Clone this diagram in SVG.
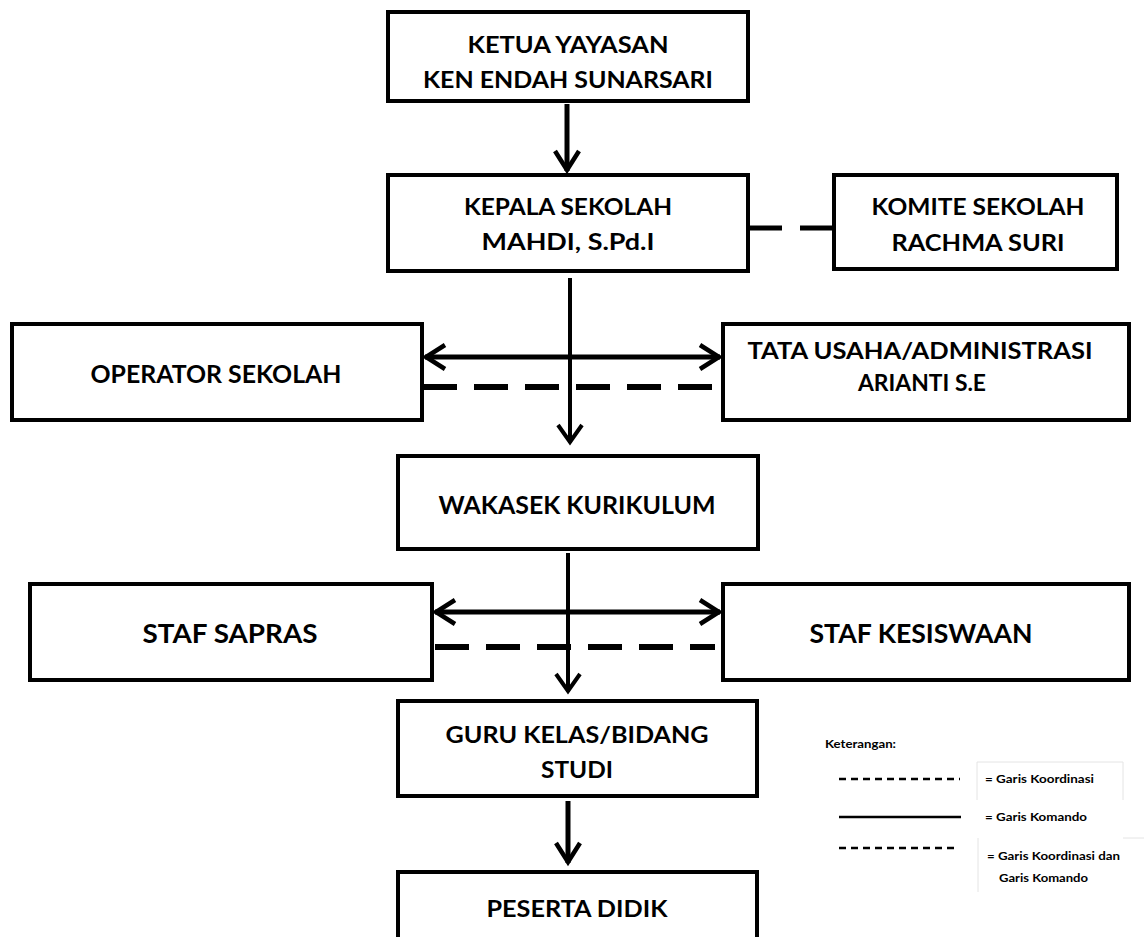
<svg xmlns="http://www.w3.org/2000/svg" width="1144" height="937" viewBox="0 0 1144 937">
<style>
.box{fill:#fff;stroke:#000;stroke-width:4}
.t{font-family:Lato,"Liberation Sans",sans-serif;font-weight:bold;font-size:23px;text-anchor:middle;fill:#000}
.t2{font-size:25px}
.t3{font-size:26px}
.cmd{stroke:#000;fill:none}
.dash{stroke:#000;stroke-width:6;fill:none;stroke-dasharray:34 17}
.lg{font-family:Lato,"Liberation Sans",sans-serif;font-weight:bold;font-size:11px;fill:#000}
.lgl{stroke:#000;stroke-width:2.5;fill:none}
.faint{stroke:#e4e4e4;stroke-width:1;fill:none}
</style>
<defs>
<marker id="ah" markerUnits="userSpaceOnUse" viewBox="-24 -16 32 32" markerWidth="32" markerHeight="32" refX="0" refY="0" orient="auto-start-reverse">
<path d="M-20,-12 L-1,0 L-20,12" stroke="#000" stroke-width="4.5" fill="none"/>
</marker>
<marker id="ahs" markerUnits="userSpaceOnUse" viewBox="-24 -16 32 32" markerWidth="32" markerHeight="32" refX="0" refY="0" orient="auto-start-reverse">
<path d="M-18,-12 L-1,0 L-18,12" stroke="#000" stroke-width="4" fill="none"/>
</marker>
</defs>
<rect width="1144" height="937" fill="#fff"/>
<g id="connectors">
<line class="cmd" x1="567" y1="104" x2="567" y2="171" stroke-width="5" marker-end="url(#ah)"/>
<line x1="750" y1="228" x2="833" y2="228" stroke="#000" stroke-width="5" stroke-dasharray="32 18"/>
<line class="cmd" x1="570" y1="278" x2="570" y2="443" stroke-width="4" marker-end="url(#ahs)"/>
<line class="cmd" x1="425" y1="357" x2="720" y2="357" stroke-width="5" marker-start="url(#ah)" marker-end="url(#ah)"/>
<line class="dash" x1="423" y1="387" x2="712" y2="387"/>
<line class="cmd" x1="568" y1="553" x2="568" y2="692" stroke-width="4" marker-end="url(#ahs)"/>
<line class="cmd" x1="435" y1="612" x2="720" y2="612" stroke-width="5" marker-start="url(#ah)" marker-end="url(#ah)"/>
<line class="dash" x1="435" y1="647" x2="715" y2="647"/>
<line class="cmd" x1="568" y1="801" x2="568" y2="863" stroke-width="5" marker-end="url(#ah)"/>
</g>
<g id="ketua">
<rect class="box" x="388" y="12" width="360" height="89"/>
<text class="t" x="568" y="53" textLength="201" lengthAdjust="spacingAndGlyphs">KETUA YAYASAN</text>
<text class="t" x="568" y="88" textLength="290" lengthAdjust="spacingAndGlyphs">KEN ENDAH SUNARSARI</text>
</g>
<g id="kepala">
<rect class="box" x="388" y="175" width="360" height="96"/>
<text class="t" x="568" y="215" textLength="208" lengthAdjust="spacingAndGlyphs">KEPALA SEKOLAH</text>
<text class="t" x="568" y="250" textLength="173" lengthAdjust="spacingAndGlyphs">MAHDI, S.Pd.I</text>
</g>
<g id="komite">
<rect class="box" x="834" y="175" width="283" height="94"/>
<text class="t" x="978" y="215" textLength="213" lengthAdjust="spacingAndGlyphs">KOMITE SEKOLAH</text>
<text class="t" x="978" y="251" textLength="173" lengthAdjust="spacingAndGlyphs">RACHMA SURI</text>
</g>
<g id="operator">
<rect class="box" x="12" y="324" width="410" height="96"/>
<text class="t t2" x="216" y="383" textLength="251" lengthAdjust="spacingAndGlyphs">OPERATOR SEKOLAH</text>
</g>
<g id="tatausaha">
<rect class="box" x="723" y="324" width="406" height="96"/>
<text class="t" x="920" y="359" textLength="345" lengthAdjust="spacingAndGlyphs">TATA USAHA/ADMINISTRASI</text>
<text class="t" x="922" y="391" textLength="128" lengthAdjust="spacingAndGlyphs">ARIANTI S.E</text>
</g>
<g id="wakasek">
<rect class="box" x="398" y="456" width="360" height="93"/>
<text class="t t2" x="577" y="514" textLength="277" lengthAdjust="spacingAndGlyphs">WAKASEK KURIKULUM</text>
</g>
<g id="sapras">
<rect class="box" x="30" y="584" width="402" height="96"/>
<text class="t t3" x="230" y="643" textLength="175" lengthAdjust="spacingAndGlyphs">STAF SAPRAS</text>
</g>
<g id="kesiswaan">
<rect class="box" x="723" y="584" width="406" height="96"/>
<text class="t t3" x="921" y="643" textLength="223" lengthAdjust="spacingAndGlyphs">STAF KESISWAAN</text>
</g>
<g id="guru">
<rect class="box" x="398" y="701" width="359" height="95"/>
<text class="t" x="577" y="743" textLength="263" lengthAdjust="spacingAndGlyphs">GURU KELAS/BIDANG</text>
<text class="t" x="577" y="778" textLength="72" lengthAdjust="spacingAndGlyphs">STUDI</text>
</g>
<g id="peserta">
<rect class="box" x="398" y="872" width="359" height="80"/>
<text class="t" x="577" y="917" textLength="181" lengthAdjust="spacingAndGlyphs">PESERTA DIDIK</text>
</g>
<g id="legend">
<path class="faint" d="M977,762 H1123 V800 M977,762 V800 M978,838 V892 M1123,838 H1144"/>
<text class="lg" x="825" y="748" textLength="71" lengthAdjust="spacingAndGlyphs">Keterangan:</text>
<line class="lgl" x1="839" y1="779" x2="960" y2="779" stroke-dasharray="7 5"/>
<text class="lg" x="985" y="783" textLength="109" lengthAdjust="spacingAndGlyphs">= Garis Koordinasi</text>
<line class="lgl" x1="839" y1="817" x2="961" y2="817"/>
<text class="lg" x="985" y="821" textLength="102" lengthAdjust="spacingAndGlyphs">= Garis Komando</text>
<line class="lgl" x1="839" y1="848" x2="958" y2="848" stroke-dasharray="7 5"/>
<text class="lg" x="987" y="860" textLength="133" lengthAdjust="spacingAndGlyphs">= Garis Koordinasi dan</text>
<text class="lg" x="999" y="882" textLength="89" lengthAdjust="spacingAndGlyphs">Garis Komando</text>
</g>
</svg>
